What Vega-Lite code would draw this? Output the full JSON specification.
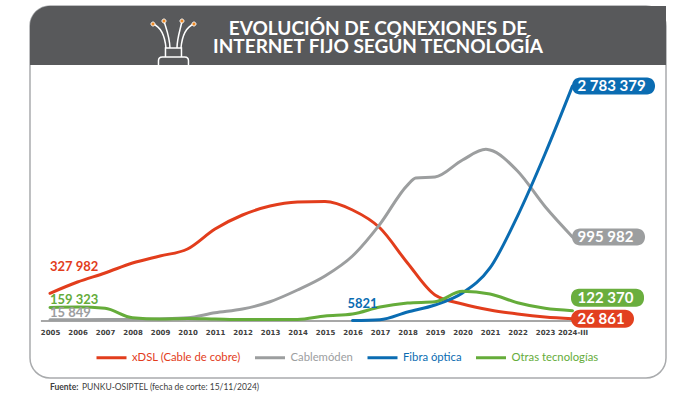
{
"$schema":"https://vega.github.io/schema/vega-lite/v6.json",
"width":636,"height":372,
"padding":{"left":30,"top":6,"right":34,"bottom":17},
"autosize":{"type":"none"},
"background":"white",
"config":{"view":{"fill":"white","stroke":"#a9abad","strokeWidth":1.5,"cornerRadius":20},"font":"Lato"},
"title":{"text":["EVOLUCIÓN DE CONEXIONES DE","INTERNET FIJO SEGÚN TECNOLOGÍA"],"font":"Lato","fontSize":19,"fontWeight":"bold","lineHeight":18,"color":"white","anchor":"middle","frame":"group","dx":30,"offset":-51},
"datasets":{"deco":[{"k":"deco"}]},
"data":{"values":[
{"s":"xDSL (Cable de cobre)","x":2005,"v":327982,"label":"327 982"},
{"s":"xDSL (Cable de cobre)","x":2006,"v":461900},
{"s":"xDSL (Cable de cobre)","x":2007,"v":568500},
{"s":"xDSL (Cable de cobre)","x":2008,"v":687000},
{"s":"xDSL (Cable de cobre)","x":2009,"v":769900},
{"s":"xDSL (Cable de cobre)","x":2010,"v":852800},
{"s":"xDSL (Cable de cobre)","x":2011,"v":1089600},
{"s":"xDSL (Cable de cobre)","x":2012,"v":1255500},
{"s":"xDSL (Cable de cobre)","x":2013,"v":1362000},
{"s":"xDSL (Cable de cobre)","x":2014,"v":1409400},
{"s":"xDSL (Cable de cobre)","x":2015,"v":1415400},
{"s":"xDSL (Cable de cobre)","x":2016,"v":1314700},
{"s":"xDSL (Cable de cobre)","x":2017,"v":1101500},
{"s":"xDSL (Cable de cobre)","x":2018,"v":687000},
{"s":"xDSL (Cable de cobre)","x":2019,"v":308000},
{"s":"xDSL (Cable de cobre)","x":2020,"v":201300},
{"s":"xDSL (Cable de cobre)","x":2021,"v":130300},
{"s":"xDSL (Cable de cobre)","x":2022,"v":82900},
{"s":"xDSL (Cable de cobre)","x":2023,"v":47400},
{"s":"xDSL (Cable de cobre)","x":2024,"v":26861,"end":"26 861"},
{"s":"Cablemóden","x":2005,"v":15849,"label":"15 849"},
{"s":"Cablemóden","x":2006,"v":15900},
{"s":"Cablemóden","x":2007,"v":16500},
{"s":"Cablemóden","x":2008,"v":19000},
{"s":"Cablemóden","x":2009,"v":24000},
{"s":"Cablemóden","x":2010,"v":38000},
{"s":"Cablemóden","x":2011,"v":98000},
{"s":"Cablemóden","x":2012,"v":142000},
{"s":"Cablemóden","x":2013,"v":228000},
{"s":"Cablemóden","x":2014,"v":367000},
{"s":"Cablemóden","x":2015,"v":533000},
{"s":"Cablemóden","x":2016,"v":770000},
{"s":"Cablemóden","x":2017,"v":1148000},
{"s":"Cablemóden","x":2018,"v":1610000},
{"s":"Cablemóden","x":2018.3,"v":1693000},
{"s":"Cablemóden","x":2019,"v":1705000},
{"s":"Cablemóden","x":2020,"v":1907000},
{"s":"Cablemóden","x":2020.85,"v":2033000},
{"s":"Cablemóden","x":2021,"v":2025000},
{"s":"Cablemóden","x":2022,"v":1776000},
{"s":"Cablemóden","x":2023,"v":1356000},
{"s":"Cablemóden","x":2024,"v":995982,"end":"995 982"},
{"s":"Fibra óptica","x":2016,"v":5821,"label":"5821"},
{"s":"Fibra óptica","x":2017,"v":15000},
{"s":"Fibra óptica","x":2018,"v":106600},
{"s":"Fibra óptica","x":2019,"v":189500},
{"s":"Fibra óptica","x":2020,"v":331700},
{"s":"Fibra óptica","x":2021,"v":628000},
{"s":"Fibra óptica","x":2022,"v":1243000},
{"s":"Fibra óptica","x":2023,"v":1978000},
{"s":"Fibra óptica","x":2024,"v":2783379,"end":"2 783 379"},
{"s":"Otras tecnologías","x":2005,"v":159323,"label":"159 323"},
{"s":"Otras tecnologías","x":2006,"v":165000},
{"s":"Otras tecnologías","x":2007,"v":150000},
{"s":"Otras tecnologías","x":2008,"v":39000},
{"s":"Otras tecnologías","x":2009,"v":24000},
{"s":"Otras tecnologías","x":2010,"v":30000},
{"s":"Otras tecnologías","x":2011,"v":24000},
{"s":"Otras tecnologías","x":2012,"v":18000},
{"s":"Otras tecnologías","x":2013,"v":18000},
{"s":"Otras tecnologías","x":2014,"v":18000},
{"s":"Otras tecnologías","x":2015,"v":59000},
{"s":"Otras tecnologías","x":2016,"v":83000},
{"s":"Otras tecnologías","x":2017,"v":166000},
{"s":"Otras tecnologías","x":2018,"v":213000},
{"s":"Otras tecnologías","x":2019,"v":228000},
{"s":"Otras tecnologías","x":2020,"v":351000},
{"s":"Otras tecnologías","x":2021,"v":320000},
{"s":"Otras tecnologías","x":2022,"v":216000},
{"s":"Otras tecnologías","x":2023,"v":150000},
{"s":"Otras tecnologías","x":2024,"v":122370,"end":"122 370"}
]},
"layer":[
{"data":{"name":"deco"},"mark":{"type":"rect","fill":"#58595b","cornerRadiusTopLeft":20},"encoding":{"x":{"datum":2004.2727,"type":"quantitative","scale":{"domain":[2004.2727,2027.4],"nice":false,"zero":false},"axis":{"values":[2005,2006,2007,2008,2009,2010,2011,2012,2013,2014,2015,2016,2017,2018,2019,2020,2021,2022,2023,2024],"labelExpr":"datum.value==2024?'2024-III':format(datum.value,'d')","title":null,"domain":false,"ticks":false,"grid":false,"offset":-57,"labelPadding":7,"labelFont":"DejaVu Sans","labelFontWeight":"bold","labelFontSize":7,"labelColor":"#404040","labelOverlap":false,"labelFlush":false}},"x2":{"datum":2027.4},"y":{"datum":3730900,"type":"quantitative","scale":{"domain":[-675115,3730900],"nice":false,"zero":false},"axis":null},"y2":{"datum":3032064}}},
{"data":{"name":"deco"},"mark":{"type":"point","filled":false,"stroke":"white","strokeWidth":1.5,"size":2500,"opacity":1,"shape":"M -0.82 -0.72 C -0.5 -0.6 -0.35 -0.3 -0.3 0.24 M -0.38 -0.84 C -0.28 -0.5 -0.15 -0.2 -0.14 0.24 M 0.34 -0.84 C 0.28 -0.5 0.15 -0.2 0.14 0.24 M 0.82 -0.72 C 0.5 -0.6 0.35 -0.3 0.3 0.24 M -0.32 0.24 H 0.32 V 0.6 H -0.32 Z M -0.6 0.92 V 0.75 Q -0.6 0.6 -0.45 0.6 H 0.45 Q 0.6 0.6 0.6 0.75 V 0.92"},"encoding":{"x":{"datum":2009.49,"type":"quantitative","axis":{"values":[2005,2006,2007,2008,2009,2010,2011,2012,2013,2014,2015,2016,2017,2018,2019,2020,2021,2022,2023,2024],"labelExpr":"datum.value==2024?'2024-III':format(datum.value,'d')","title":null,"domain":false,"ticks":false,"grid":false,"offset":-57,"labelPadding":7,"labelFont":"DejaVu Sans","labelFontWeight":"bold","labelFontSize":7,"labelColor":"#404040","labelOverlap":false,"labelFlush":false}},"y":{"datum":3304476,"type":"quantitative","axis":null}}},
{"data":{"name":"deco"},"mark":{"type":"point","filled":true,"fill":"#f08a24","stroke":"white","strokeWidth":1,"size":2500,"opacity":1,"shape":"M -0.9 -0.72 a 0.08 0.08 0 1 0 0.16 0 a 0.08 0.08 0 1 0 -0.16 0 M -0.46 -0.84 a 0.08 0.08 0 1 0 0.16 0 a 0.08 0.08 0 1 0 -0.16 0 M 0.26 -0.84 a 0.08 0.08 0 1 0 0.16 0 a 0.08 0.08 0 1 0 -0.16 0 M 0.74 -0.72 a 0.08 0.08 0 1 0 0.16 0 a 0.08 0.08 0 1 0 -0.16 0"},"encoding":{"x":{"datum":2009.49,"type":"quantitative","axis":{"values":[2005,2006,2007,2008,2009,2010,2011,2012,2013,2014,2015,2016,2017,2018,2019,2020,2021,2022,2023,2024],"labelExpr":"datum.value==2024?'2024-III':format(datum.value,'d')","title":null,"domain":false,"ticks":false,"grid":false,"offset":-57,"labelPadding":7,"labelFont":"DejaVu Sans","labelFontWeight":"bold","labelFontSize":7,"labelColor":"#404040","labelOverlap":false,"labelFlush":false}},"y":{"datum":3304476,"type":"quantitative","axis":null}}},
{"data":{"name":"deco"},"mark":{"type":"rule","stroke":"#8a8a8a","strokeWidth":1.5},"encoding":{"x":{"datum":2004.67,"type":"quantitative","axis":{"values":[2005,2006,2007,2008,2009,2010,2011,2012,2013,2014,2015,2016,2017,2018,2019,2020,2021,2022,2023,2024],"labelExpr":"datum.value==2024?'2024-III':format(datum.value,'d')","title":null,"domain":false,"ticks":false,"grid":false,"offset":-57,"labelPadding":7,"labelFont":"DejaVu Sans","labelFontWeight":"bold","labelFontSize":7,"labelColor":"#404040","labelOverlap":false,"labelFlush":false}},"x2":{"datum":2024},"y":{"datum":0,"type":"quantitative","axis":null}}},
{"data":{"name":"deco"},"mark":{"type":"text","align":"left","font":"Lato","fontWeight":"bold","fontSize":8.5,"fill":"#404040","text":"Fuente:"},"encoding":{"x":{"datum":2005,"type":"quantitative","axis":{"values":[2005,2006,2007,2008,2009,2010,2011,2012,2013,2014,2015,2016,2017,2018,2019,2020,2021,2022,2023,2024],"labelExpr":"datum.value==2024?'2024-III':format(datum.value,'d')","title":null,"domain":false,"ticks":false,"grid":false,"offset":-57,"labelPadding":7,"labelFont":"DejaVu Sans","labelFontWeight":"bold","labelFontSize":7,"labelColor":"#404040","labelOverlap":false,"labelFlush":false}},"y":{"datum":-781700,"type":"quantitative","axis":null}}},
{"data":{"name":"deco"},"mark":{"type":"text","align":"left","font":"Lato","fontSize":8.5,"fill":"#404040","text":"PUNKU-OSIPTEL (fecha de corte: 15/11/2024)"},"encoding":{"x":{"datum":2006.16,"type":"quantitative","axis":{"values":[2005,2006,2007,2008,2009,2010,2011,2012,2013,2014,2015,2016,2017,2018,2019,2020,2021,2022,2023,2024],"labelExpr":"datum.value==2024?'2024-III':format(datum.value,'d')","title":null,"domain":false,"ticks":false,"grid":false,"offset":-57,"labelPadding":7,"labelFont":"DejaVu Sans","labelFontWeight":"bold","labelFontSize":7,"labelColor":"#404040","labelOverlap":false,"labelFlush":false}},"y":{"datum":-781700,"type":"quantitative","axis":null}}},
{"mark":{"type":"line","interpolate":"monotone","strokeWidth":3,"strokeCap":"round"},
 "encoding":{"x":{"field":"x","type":"quantitative","axis":{"values":[2005,2006,2007,2008,2009,2010,2011,2012,2013,2014,2015,2016,2017,2018,2019,2020,2021,2022,2023,2024],"labelExpr":"datum.value==2024?'2024-III':format(datum.value,'d')","title":null,"domain":false,"ticks":false,"grid":false,"offset":-57,"labelPadding":7,"labelFont":"DejaVu Sans","labelFontWeight":"bold","labelFontSize":7,"labelColor":"#404040","labelOverlap":false,"labelFlush":false}},"y":{"field":"v","type":"quantitative","axis":null},"color":{"field":"s","type":"nominal","scale":{"domain":["xDSL (Cable de cobre)","Cablemóden","Fibra óptica","Otras tecnologías"],"range":["#e23d1c","#9c9e9f","#0a6cb2","#65ac3a"]},
  "legend":{"title":null,"orient":"none","legendX":65,"legendY":335,"direction":"horizontal","columns":4,"symbolType":"stroke","symbolSize":900,"symbolStrokeWidth":3,"labelFont":"Lato","labelFontSize":11.3,"labelOffset":4,"columnPadding":7.5,"labelLimit":200,
   "encoding":{"labels":{"fill":{"condition":[{"test":"datum.value=='xDSL (Cable de cobre)'","value":"#e23d1c"},{"test":"datum.value=='Cablemóden'","value":"#9c9e9f"},{"test":"datum.value=='Fibra óptica'","value":"#0a6cb2"}],"value":"#65ac3a"}}}}},
  "order":{"field":"x"}}},
{"transform":[{"filter":"datum.s=='Otras tecnologías'&&datum.end"}],"mark":{"type":"rect","fill":"#6aae3e","width":73,"height":18,"cornerRadius":8,"xOffset":35,"yOffset":-13},"encoding":{"x":{"field":"x","type":"quantitative","axis":{"values":[2005,2006,2007,2008,2009,2010,2011,2012,2013,2014,2015,2016,2017,2018,2019,2020,2021,2022,2023,2024],"labelExpr":"datum.value==2024?'2024-III':format(datum.value,'d')","title":null,"domain":false,"ticks":false,"grid":false,"offset":-57,"labelPadding":7,"labelFont":"DejaVu Sans","labelFontWeight":"bold","labelFontSize":7,"labelColor":"#404040","labelOverlap":false,"labelFlush":false}},"y":{"field":"v","type":"quantitative","axis":null}}},
{"transform":[{"filter":"datum.s=='xDSL (Cable de cobre)'&&datum.end"}],"mark":{"type":"rect","fill":"#e2401f","width":63,"height":18,"cornerRadius":9,"xOffset":30},"encoding":{"x":{"field":"x","type":"quantitative","axis":{"values":[2005,2006,2007,2008,2009,2010,2011,2012,2013,2014,2015,2016,2017,2018,2019,2020,2021,2022,2023,2024],"labelExpr":"datum.value==2024?'2024-III':format(datum.value,'d')","title":null,"domain":false,"ticks":false,"grid":false,"offset":-57,"labelPadding":7,"labelFont":"DejaVu Sans","labelFontWeight":"bold","labelFontSize":7,"labelColor":"#404040","labelOverlap":false,"labelFlush":false}},"y":{"field":"v","type":"quantitative","axis":null}}},
{"transform":[{"filter":"datum.s=='Cablemóden'&&datum.end"}],"mark":{"type":"rect","fill":"#9c9e9f","width":73,"height":17,"cornerRadius":8,"xOffset":36},"encoding":{"x":{"field":"x","type":"quantitative","axis":{"values":[2005,2006,2007,2008,2009,2010,2011,2012,2013,2014,2015,2016,2017,2018,2019,2020,2021,2022,2023,2024],"labelExpr":"datum.value==2024?'2024-III':format(datum.value,'d')","title":null,"domain":false,"ticks":false,"grid":false,"offset":-57,"labelPadding":7,"labelFont":"DejaVu Sans","labelFontWeight":"bold","labelFontSize":7,"labelColor":"#404040","labelOverlap":false,"labelFlush":false}},"y":{"field":"v","type":"quantitative","axis":null}}},
{"transform":[{"filter":"datum.s=='Fibra óptica'&&datum.end"}],"mark":{"type":"rect","fill":"#0a6cb2","width":83,"height":17,"cornerRadius":8,"xOffset":41},"encoding":{"x":{"field":"x","type":"quantitative","axis":{"values":[2005,2006,2007,2008,2009,2010,2011,2012,2013,2014,2015,2016,2017,2018,2019,2020,2021,2022,2023,2024],"labelExpr":"datum.value==2024?'2024-III':format(datum.value,'d')","title":null,"domain":false,"ticks":false,"grid":false,"offset":-57,"labelPadding":7,"labelFont":"DejaVu Sans","labelFontWeight":"bold","labelFontSize":7,"labelColor":"#404040","labelOverlap":false,"labelFlush":false}},"y":{"field":"v","type":"quantitative","axis":null}}},
{"transform":[{"filter":"datum.end&&datum.s!='Otras tecnologías'"}],"mark":{"type":"text","align":"left","dx":5,"font":"Lato","fontWeight":"bold","fontSize":15,"fill":"white"},"encoding":{"x":{"field":"x","type":"quantitative","axis":{"values":[2005,2006,2007,2008,2009,2010,2011,2012,2013,2014,2015,2016,2017,2018,2019,2020,2021,2022,2023,2024],"labelExpr":"datum.value==2024?'2024-III':format(datum.value,'d')","title":null,"domain":false,"ticks":false,"grid":false,"offset":-57,"labelPadding":7,"labelFont":"DejaVu Sans","labelFontWeight":"bold","labelFontSize":7,"labelColor":"#404040","labelOverlap":false,"labelFlush":false}},"y":{"field":"v","type":"quantitative","axis":null},"text":{"field":"end"}}},
{"transform":[{"filter":"datum.end&&datum.s=='Otras tecnologías'"}],"mark":{"type":"text","align":"left","dx":5,"dy":-13,"font":"Lato","fontWeight":"bold","fontSize":15,"fill":"white"},"encoding":{"x":{"field":"x","type":"quantitative","axis":{"values":[2005,2006,2007,2008,2009,2010,2011,2012,2013,2014,2015,2016,2017,2018,2019,2020,2021,2022,2023,2024],"labelExpr":"datum.value==2024?'2024-III':format(datum.value,'d')","title":null,"domain":false,"ticks":false,"grid":false,"offset":-57,"labelPadding":7,"labelFont":"DejaVu Sans","labelFontWeight":"bold","labelFontSize":7,"labelColor":"#404040","labelOverlap":false,"labelFlush":false}},"y":{"field":"v","type":"quantitative","axis":null},"text":{"field":"end"}}},
{"transform":[{"filter":"datum.label&&datum.s=='xDSL (Cable de cobre)'"}],"mark":{"type":"text","align":"left","dy":-26,"font":"Lato","fontWeight":"bold","fontSize":13,"fill":"#e23d1c"},"encoding":{"x":{"field":"x","type":"quantitative","axis":{"values":[2005,2006,2007,2008,2009,2010,2011,2012,2013,2014,2015,2016,2017,2018,2019,2020,2021,2022,2023,2024],"labelExpr":"datum.value==2024?'2024-III':format(datum.value,'d')","title":null,"domain":false,"ticks":false,"grid":false,"offset":-57,"labelPadding":7,"labelFont":"DejaVu Sans","labelFontWeight":"bold","labelFontSize":7,"labelColor":"#404040","labelOverlap":false,"labelFlush":false}},"y":{"field":"v","type":"quantitative","axis":null},"text":{"field":"label"}}},
{"transform":[{"filter":"datum.label&&datum.s=='Otras tecnologías'"}],"mark":{"type":"text","align":"left","dy":-8,"font":"Lato","fontWeight":"bold","fontSize":13,"fill":"#65ac3a"},"encoding":{"x":{"field":"x","type":"quantitative","axis":{"values":[2005,2006,2007,2008,2009,2010,2011,2012,2013,2014,2015,2016,2017,2018,2019,2020,2021,2022,2023,2024],"labelExpr":"datum.value==2024?'2024-III':format(datum.value,'d')","title":null,"domain":false,"ticks":false,"grid":false,"offset":-57,"labelPadding":7,"labelFont":"DejaVu Sans","labelFontWeight":"bold","labelFontSize":7,"labelColor":"#404040","labelOverlap":false,"labelFlush":false}},"y":{"field":"v","type":"quantitative","axis":null},"text":{"field":"label"}}},
{"transform":[{"filter":"datum.label&&datum.s=='Cablemóden'"}],"mark":{"type":"text","align":"left","dy":-7,"font":"Lato","fontWeight":"bold","fontSize":13,"fill":"#9c9e9f"},"encoding":{"x":{"field":"x","type":"quantitative","axis":{"values":[2005,2006,2007,2008,2009,2010,2011,2012,2013,2014,2015,2016,2017,2018,2019,2020,2021,2022,2023,2024],"labelExpr":"datum.value==2024?'2024-III':format(datum.value,'d')","title":null,"domain":false,"ticks":false,"grid":false,"offset":-57,"labelPadding":7,"labelFont":"DejaVu Sans","labelFontWeight":"bold","labelFontSize":7,"labelColor":"#404040","labelOverlap":false,"labelFlush":false}},"y":{"field":"v","type":"quantitative","axis":null},"text":{"field":"label"}}},
{"transform":[{"filter":"datum.label&&datum.s=='Fibra óptica'"}],"mark":{"type":"text","align":"center","dx":10,"dy":-17,"font":"Lato","fontWeight":"bold","fontSize":13,"fill":"#0a6cb2"},"encoding":{"x":{"field":"x","type":"quantitative","axis":{"values":[2005,2006,2007,2008,2009,2010,2011,2012,2013,2014,2015,2016,2017,2018,2019,2020,2021,2022,2023,2024],"labelExpr":"datum.value==2024?'2024-III':format(datum.value,'d')","title":null,"domain":false,"ticks":false,"grid":false,"offset":-57,"labelPadding":7,"labelFont":"DejaVu Sans","labelFontWeight":"bold","labelFontSize":7,"labelColor":"#404040","labelOverlap":false,"labelFlush":false}},"y":{"field":"v","type":"quantitative","axis":null},"text":{"field":"label"}}}
]
}
